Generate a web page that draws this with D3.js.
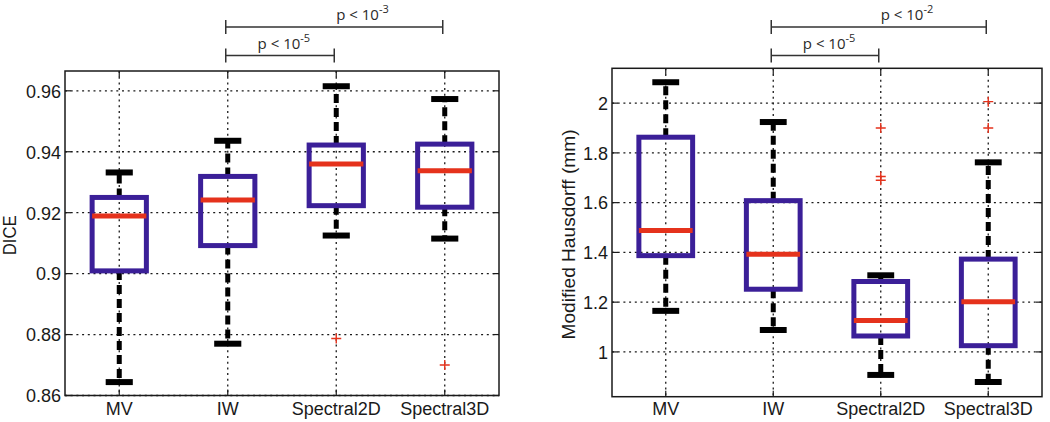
<!DOCTYPE html>
<html>
<head>
<meta charset="utf-8">
<script src="https://cdn.jsdelivr.net/npm/d3@7/dist/d3.min.js"></script>
<style>
  html, body { margin: 0; padding: 0; background: #fff; }
  svg { display: block; }
  .tick-label { font-family: "Liberation Sans", Arial, sans-serif; font-size: 18px; fill: #1a1a1a; }
  .ylabel { font-family: "Liberation Sans", Arial, sans-serif; fill: #1a1a1a; }
  .ptext { font-family: "Open Sans", "Noto Sans", sans-serif; font-size: 15px; fill: #2a2a2a; }
</style>
</head>
<body>
<div id="chart"></div>
<script>
const categories = ["MV", "IW", "Spectral2D", "Spectral3D"];

// [lower whisker, q1, median, q3, upper whisker]
const diceStats = [
  [0.8644, 0.9009, 0.9189, 0.9250, 0.9332],
  [0.8770, 0.9092, 0.9242, 0.9319, 0.9436],
  [0.9125, 0.9223, 0.9360, 0.9422, 0.9615],
  [0.9115, 0.9218, 0.9338, 0.9425, 0.9573]
];
const diceOutliers = [[], [], [0.8787], [0.870]];
const diceTicks = [0.86, 0.88, 0.9, 0.92, 0.94, 0.96];

const hausStats = [
  [1.165, 1.387, 1.488, 1.863, 2.084],
  [1.088, 1.252, 1.393, 1.608, 1.924],
  [0.9075, 1.064, 1.126, 1.283, 1.308],
  [0.879, 1.025, 1.202, 1.373, 1.762]
];
const hausOutliers = [[], [], [1.90, 1.705, 1.69], [2.006, 1.90]];
const hausTicks = [1, 1.2, 1.4, 1.6, 1.8, 2];

// significance brackets: [from category index, to category index, exponent]
const diceSig = [[1, 2, "-5"], [1, 3, "-3"]];
const hausSig = [[1, 2, "-5"], [1, 3, "-2"]];

const W = 1050, H = 422;
const svg = d3.select("#chart").append("svg").attr("width", W).attr("height", H);
svg.append("rect").attr("width", W).attr("height", H).attr("fill", "#fff");

const BOX = "#3b1f98";
const MED = "#e5321c";

function panel({ left, right, top, bottom, yDomain, ticks, stats, outliers, sig, yLabel, yLabelX, yLabelSize, yLabelLen, tickFmt }) {
  const x = d3.scaleLinear().domain([0.5, 4.5]).range([left, right]);
  const y = d3.scaleLinear().domain(yDomain).range([bottom, top]);
  const g = svg.append("g");
  const cx = (i) => x(i + 1);

  // grid
  const grid = g.append("g").attr("stroke", "#1a1a1a").attr("stroke-width", 1.3)
    .attr("stroke-dasharray", "2,3.7");
  grid.selectAll(".gh").data(ticks).join("line")
    .attr("x1", left).attr("x2", right)
    .attr("y1", d => y(d)).attr("y2", d => y(d));
  grid.selectAll(".gv").data(categories).join("line")
    .attr("x1", (d, i) => cx(i)).attr("x2", (d, i) => cx(i))
    .attr("y1", top).attr("y2", bottom);

  const bw = x(0.25) - x(0);   // box half width
  const cw = x(0.125) - x(0);  // cap half width

  // whiskers
  const wh = g.append("g").attr("stroke", "#000").attr("stroke-width", 5)
    .attr("stroke-dasharray", "9,5");
  wh.selectAll(".wu").data(stats).join("line")
    .attr("x1", (d, i) => cx(i)).attr("x2", (d, i) => cx(i))
    .attr("y1", d => y(d[3])).attr("y2", d => y(d[4]));
  wh.selectAll(".wl").data(stats).join("line")
    .attr("x1", (d, i) => cx(i)).attr("x2", (d, i) => cx(i))
    .attr("y1", d => y(d[1])).attr("y2", d => y(d[0]));

  // caps
  const caps = g.append("g").attr("stroke", "#000").attr("stroke-width", 6);
  [0, 4].forEach(k => {
    caps.selectAll(".c" + k).data(stats).join("line")
      .attr("x1", (d, i) => cx(i) - cw).attr("x2", (d, i) => cx(i) + cw)
      .attr("y1", d => y(d[k])).attr("y2", d => y(d[k]));
  });

  // boxes
  g.append("g").selectAll("rect").data(stats).join("rect")
    .attr("x", (d, i) => cx(i) - bw)
    .attr("width", 2 * bw)
    .attr("y", d => y(d[3]))
    .attr("height", d => y(d[1]) - y(d[3]))
    .attr("fill", "none")
    .attr("stroke", BOX)
    .attr("stroke-width", 5);

  // medians
  g.append("g").selectAll("line").data(stats).join("line")
    .attr("x1", (d, i) => cx(i) - bw).attr("x2", (d, i) => cx(i) + bw)
    .attr("y1", d => y(d[2])).attr("y2", d => y(d[2]))
    .attr("stroke", MED).attr("stroke-width", 5);

  // outliers
  const pts = outliers.flatMap((arr, i) => arr.map(v => ({ i, v })));
  g.append("g").selectAll("path").data(pts).join("path")
    .attr("d", d => {
      const px = cx(d.i), py = y(d.v), s = 5;
      return `M${px - s},${py}H${px + s}M${px},${py - s}V${py + s}`;
    })
    .attr("stroke", MED).attr("stroke-width", 1.4).attr("fill", "none");

  // axes frame
  g.append("rect").attr("x", left).attr("y", top)
    .attr("width", right - left).attr("height", bottom - top)
    .attr("fill", "none").attr("stroke", "#1a1a1a").attr("stroke-width", 1.5);

  // ticks (inward, on all sides)
  const tk = g.append("g").attr("stroke", "#1a1a1a").attr("stroke-width", 1.2);
  ticks.forEach(t => {
    tk.append("line").attr("x1", left).attr("x2", left + 6).attr("y1", y(t)).attr("y2", y(t));
    tk.append("line").attr("x1", right).attr("x2", right - 6).attr("y1", y(t)).attr("y2", y(t));
  });
  categories.forEach((c, i) => {
    tk.append("line").attr("x1", cx(i)).attr("x2", cx(i)).attr("y1", bottom).attr("y2", bottom - 6);
    tk.append("line").attr("x1", cx(i)).attr("x2", cx(i)).attr("y1", top).attr("y2", top + 6);
  });

  // tick labels
  g.append("g").selectAll("text").data(ticks).join("text")
    .attr("class", "tick-label")
    .attr("x", left - 4).attr("y", d => y(d)).attr("dy", "0.38em")
    .attr("text-anchor", "end")
    .text(tickFmt);
  g.append("g").selectAll("text").data(categories).join("text")
    .attr("class", "tick-label")
    .attr("x", (d, i) => cx(i)).attr("y", 415)
    .attr("text-anchor", "middle")
    .text(d => d);

  // y label
  const ym = (top + bottom) / 2;
  const yl = g.append("text").attr("class", "ylabel")
    .attr("font-size", yLabelSize)
    .attr("transform", `translate(${yLabelX},${ym + 2}) rotate(-90)`)
    .attr("text-anchor", "middle")
    .text(yLabel);
  if (yLabelLen) yl.attr("textLength", yLabelLen).attr("lengthAdjust", "spacingAndGlyphs");

  // significance brackets
  const levels = [55.5, 27];
  const textY = [49, 20];
  sig.forEach(([a, b, ex], k) => {
    const ly = levels[k];
    const x1 = cx(a) - 2, x2 = cx(b) - 2;
    const br = g.append("g").attr("stroke", "#333").attr("stroke-width", 1.5).attr("fill", "none");
    br.append("path").attr("d", `M${x1},${ly - 7}V${ly + 7}M${x1},${ly}H${x2}M${x2},${ly - 7}V${ly + 7}`);
    const tx = k === 0 ? x(a + 1 + 0.275) : x(b);
    const t = g.append("text").attr("class", "ptext").attr("x", tx).attr("y", textY[k]);
    t.append("tspan").text("p < 10");
    t.append("tspan").attr("dy", -7).attr("font-size", 11).text(ex);
  });
}

panel({
  left: 65, right: 499, top: 71, bottom: 395.5,
  yDomain: [0.86, 0.9665], ticks: diceTicks,
  stats: diceStats, outliers: diceOutliers, sig: diceSig,
  yLabel: "DICE", yLabelX: 16, yLabelSize: 18, yLabelLen: 40,
  tickFmt: d => d3.format(".2~f")(d)
});

panel({
  left: 612, right: 1042, top: 68.3, bottom: 396.7,
  yDomain: [0.82, 2.14], ticks: hausTicks,
  stats: hausStats, outliers: hausOutliers, sig: hausSig,
  yLabel: "Modified Hausdorff (mm)", yLabelX: 575, yLabelSize: 19, yLabelLen: 210,
  tickFmt: d => d3.format(".1~f")(d)
});
</script>
</body>
</html>
